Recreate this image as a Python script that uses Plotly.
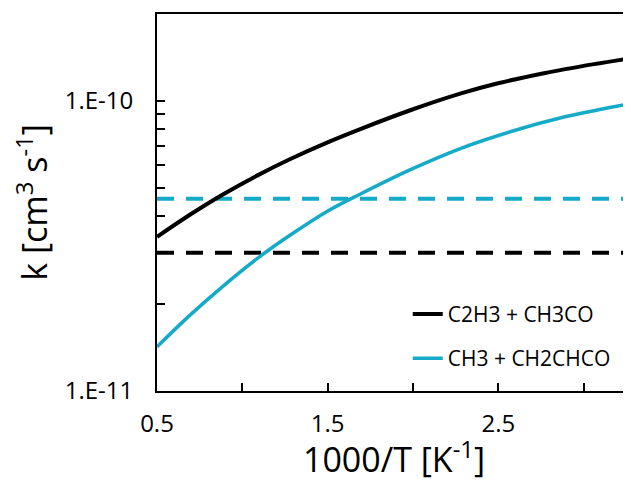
import plotly.graph_objects as go

# Data (x = 1000/T [K^-1], k [cm^3 s^-1])
x_c2h3 = [0.5, 0.695, 0.891, 1.086, 1.281, 1.496, 1.695, 1.988, 2.281, 2.498, 2.767, 3.06, 3.277]
k_c2h3 = [3.40e-11, 4.06e-11, 4.78e-11, 5.53e-11, 6.31e-11, 7.19e-11, 8.02e-11, 9.31e-11,
          1.062e-10, 1.151e-10, 1.247e-10, 1.340e-10, 1.405e-10]

x_ch3 = [0.5, 0.695, 0.891, 1.086, 1.281, 1.496, 1.695, 1.988, 2.281, 2.574, 2.867, 3.16, 3.277]
k_ch3 = [1.42e-11, 1.83e-11, 2.31e-11, 2.86e-11, 3.45e-11, 4.16e-11, 4.79e-11, 5.81e-11,
         6.87e-11, 7.85e-11, 8.75e-11, 9.51e-11, 9.79e-11]

x_const = [0.5, 3.3]
k_const_c2h3 = [3.0e-11, 3.0e-11]
k_const_ch3 = [4.6e-11, 4.6e-11]

names = ["C2H3 + CH3CO", "CH3 + CH2CHCO"]
x_tickvals = [0.5, 1.5, 2.5]
x_ticktext = ["0.5", "1.5", "2.5"]
x_minor_tickvals = [1.0, 2.0, 3.0]
y_tickvals = [1e-11, 1e-10]
y_ticktext = ["1.E-11", "1.E-10"]
y_minor_tickvals = [2e-11, 3e-11, 4e-11, 5e-11, 6e-11, 7e-11, 8e-11, 9e-11]

BLACK = "#000000"
CYAN = "#14aac8"
FONT = "Open Sans"

fig = go.Figure()
fig.add_trace(go.Scatter(x=x_const, y=k_const_c2h3, mode="lines", showlegend=False,
                         line=dict(color=BLACK, width=4, dash="17px,12px")))
fig.add_trace(go.Scatter(x=x_const, y=k_const_ch3, mode="lines", showlegend=False,
                         line=dict(color=CYAN, width=4, dash="17px,12px")))
fig.add_trace(go.Scatter(x=x_c2h3, y=k_c2h3, mode="lines", name=names[0], legendgroup="a",
                         line=dict(color=BLACK, width=4, shape="spline", smoothing=1)))
fig.add_trace(go.Scatter(x=x_ch3, y=k_ch3, mode="lines", name=names[1], legendgroup="b",
                         line=dict(color=CYAN, width=3.5, shape="spline", smoothing=1)))

minor_style = dict(ticks="inside", ticklen=8, tickwidth=1.5, tickcolor="black", showgrid=False)

# the page body has an 8px margin, so the figure is sized/offset to compensate
fig.update_layout(
    width=623, height=474,
    margin=dict(l=149, r=0, t=6, b=91),
    paper_bgcolor="white", plot_bgcolor="white",
    font=dict(family=FONT, color="black"),
    legend=dict(x=0.529, y=0.145, xanchor="left", yanchor="middle",
                bgcolor="rgba(0,0,0,0)", font=dict(size=21, family=FONT),
                tracegroupgap=14, traceorder="grouped", itemwidth=30),
    xaxis=dict(
        range=[0.5, 3.277], tickmode="array", tickvals=x_tickvals, ticktext=x_ticktext,
        minor=dict(tickmode="array", tickvals=x_minor_tickvals, **minor_style),
        ticks="inside", ticklen=8, tickwidth=1.5, tickcolor="black",
        showline=True, linecolor="black", linewidth=2, mirror=True,
        showgrid=False, zeroline=False,
        tickfont=dict(size=24, family=FONT), ticklabelstandoff=10,
        title=dict(text="1000/T [K<sup>-1</sup>]", font=dict(size=34, family=FONT), standoff=6),
    ),
    yaxis=dict(
        type="log", range=[-11, -9.7], tickmode="array", tickvals=y_tickvals, ticktext=y_ticktext,
        minor=dict(tickmode="array", tickvals=y_minor_tickvals, **minor_style),
        ticks="inside", ticklen=8, tickwidth=1.5, tickcolor="black",
        showline=True, linecolor="black", linewidth=2,
        showgrid=False, zeroline=False,
        tickfont=dict(size=24, family=FONT), ticklabelstandoff=17,
        title=dict(text="k [cm<sup>3</sup> s<sup>-1</sup>]", font=dict(size=34, family=FONT), standoff=13),
    ),
)

fig.write_html("out.html")
